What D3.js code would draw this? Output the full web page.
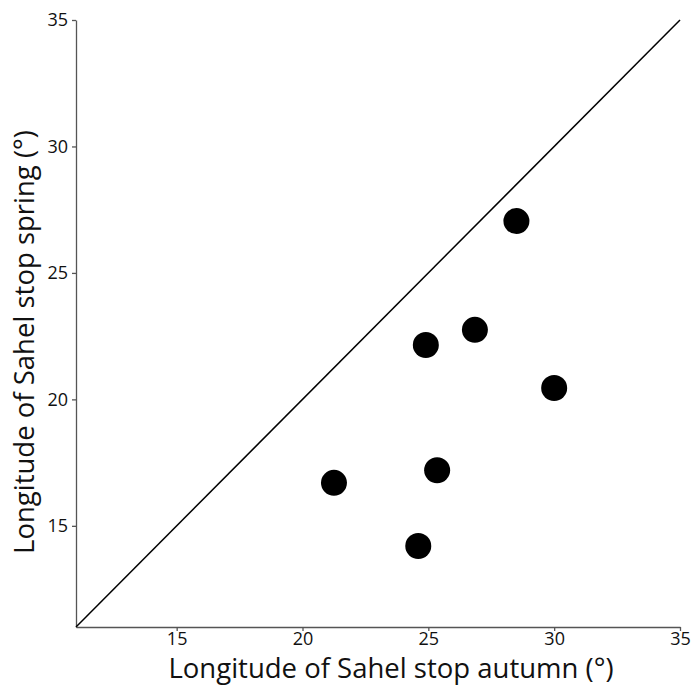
<!DOCTYPE html>
<html>
<head>
<meta charset="utf-8">
<script src="https://cdn.jsdelivr.net/npm/d3@7"></script>
<style>
  body { margin: 0; background: #fff; }
  .axis-title { font-family: "Open Sans", "Liberation Sans", sans-serif; font-size: 27.5px; fill: #111; }
</style>
</head>
<body>
<div id="chart"></div>
<script>
// values
const autumnLon = [28.5, 26.85, 24.9, 30.0, 25.35, 21.25, 24.6];
const springLon = [27.05, 22.75, 22.15, 20.45, 17.2, 16.7, 14.2];
const tickValues = [15, 20, 25, 30, 35];
const axisDomain = [11, 35];

let margin = {top: 20, left: 76, right: 15, bottom: 59},
    width = 695 - margin.left - margin.right,
    height = 686 - margin.top - margin.bottom;

let svg = d3.select('#chart').append('svg')
    .attr('width', 695)
    .attr('height', 686);

let g = svg.append('g').attr('transform', `translate(${margin.left},${margin.top})`);

let x = d3.scaleLinear().domain(axisDomain).range([0, width]),
    y = d3.scaleLinear().domain(axisDomain).range([height, 0]);

// axes
let xAxis = g.append('g')
    .attr('transform', `translate(0,${height})`)
    .call(d3.axisBottom(x).tickValues(tickValues).tickSize(4).tickPadding(3).tickSizeOuter(0));

let yAxis = g.append('g')
    .call(d3.axisLeft(y).tickValues(tickValues).tickSize(4).tickPadding(4).tickSizeOuter(0));

[xAxis, yAxis].forEach(a => {
    a.attr('font-size', null).attr('font-family', null);
    a.select('.domain').attr('stroke', '#555').attr('stroke-width', 1.3);
    a.selectAll('.tick line').attr('stroke', '#555').attr('stroke-width', 1.3);
    a.selectAll('.tick text')
        .style('font-family', '"Open Sans", "Liberation Sans", sans-serif')
        .style('font-size', '18px')
        .attr('fill', '#111');
});
xAxis.selectAll('.tick text').attr('dy', '0.62em');

// 1:1 line
g.append('line')
    .attr('x1', x(axisDomain[0])).attr('y1', y(axisDomain[0]))
    .attr('x2', x(axisDomain[1])).attr('y2', y(axisDomain[1]))
    .attr('stroke', '#000')
    .attr('stroke-width', 1.5);

// points
g.selectAll('circle')
    .data(autumnLon.map((d, i) => ({x: d, y: springLon[i]})))
    .join('circle')
    .attr('cx', d => x(d.x))
    .attr('cy', d => y(d.y))
    .attr('r', 13)
    .attr('fill', '#000');

// axis titles
svg.append('text')
    .classed('axis-title', true)
    .attr('x', 391)
    .attr('y', 678)
    .attr('text-anchor', 'middle')
    .text('Longitude of Sahel stop autumn (°)');

svg.append('text')
    .classed('axis-title', true)
    .attr('transform', `translate(34,342) rotate(-90)`)
    .attr('text-anchor', 'middle')
    .text('Longitude of Sahel stop spring (°)');
</script>
</body>
</html>
